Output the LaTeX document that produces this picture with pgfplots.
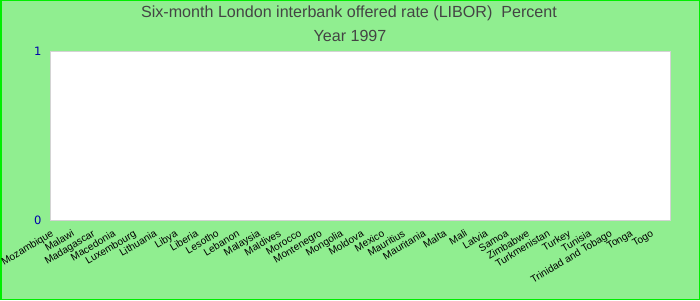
\documentclass[border=0pt]{standalone}
\usepackage{pgfplots}
\pgfplotsset{compat=1.18}
\usepackage{fontspec}
\setmainfont{Liberation Sans}
\newfontfamily\dvs{DejaVu Sans}
\definecolor{bgc}{HTML}{90EE90}
\definecolor{brd}{HTML}{00EE00}
\definecolor{ttl}{HTML}{444444}
\definecolor{ytl}{HTML}{0000AA}
\definecolor{axl}{HTML}{D3D3D3}
\begin{document}
\begin{tikzpicture}[x=1pt,y=1pt]
\useasboundingbox (0,0) rectangle (700,300);
\fill[bgc] (0,0) rectangle (700,300);
\draw[brd, line width=1.5pt] (0.75,0.75) rectangle (699.25,299.25);
\node[ttl, font=\fontsize{16.1}{19}\selectfont] at (349,287) {Six-month London interbank offered rate (LIBOR)\ \ Percent};
\node[ttl, font=\fontsize{16.1}{19}\selectfont] at (350,264) {Year 1997};
\begin{axis}[
  at={(50pt,80pt)}, anchor=south west,
  scale only axis, width=620.7pt, height=169pt,
  xmin=-0.5, xmax=29.5, ymin=0, ymax=1,
  axis background/.style={fill=white},
  axis line style={axl, line width=1pt},
  major tick length=0pt,
  ytick={0,1},
  yticklabel style={ytl, font=\dvs\fontsize{11.5}{13}\selectfont, xshift=-5pt},
  /pgf/number format/assume math mode=true,
  xtick={0,...,29},
  xticklabels={Mozambique,Malawi,Madagascar,Macedonia,Luxembourg,Lithuania,Libya,Liberia,Lesotho,Lebanon,Malaysia,Maldives,Morocco,Montenegro,Mongolia,Moldova,Mexico,Mauritius,Mauritania,Malta,Mali,Latvia,Samoa,Zimbabwe,Turkmenistan,Turkey,Tunisia,Trinidad and Tobago,Tonga,Togo},
  xticklabel style={font=\fontsize{10.2}{12}\selectfont, xshift=-10pt, yshift=-9pt, rotate=31, anchor=north east, inner sep=0pt},
]
\end{axis}
\end{tikzpicture}
\end{document}
